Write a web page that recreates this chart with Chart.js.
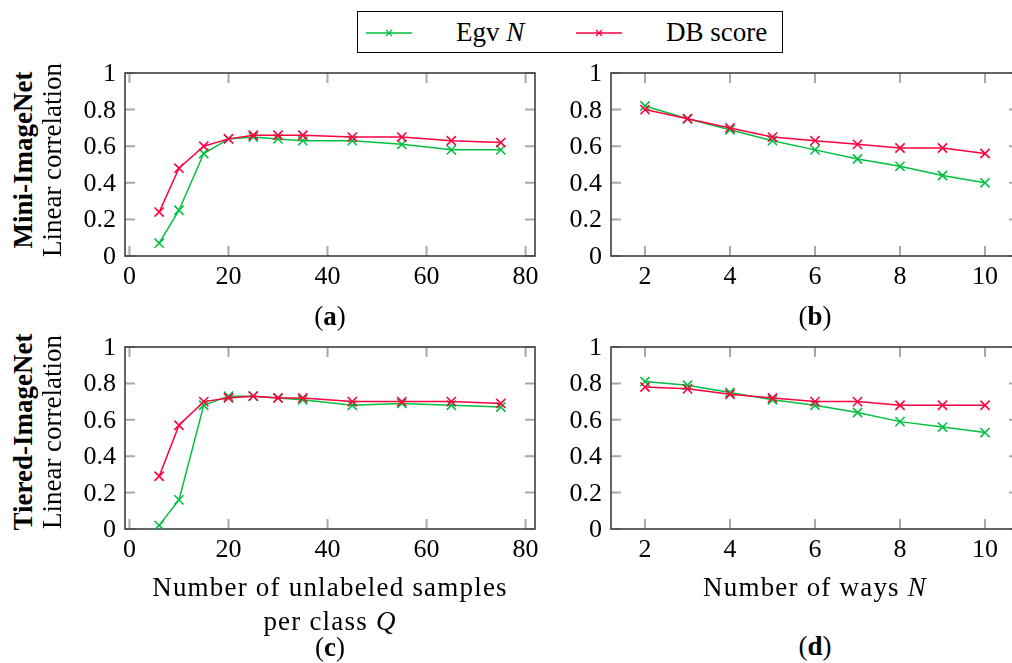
<!DOCTYPE html>
<html>
<head>
<meta charset="utf-8">
<script src="https://cdn.jsdelivr.net/npm/chart.js@4.4.1/dist/chart.umd.min.js"></script>
<style>
  body { margin: 0; width: 1012px; height: 663px; overflow: hidden; background: #fff; position: relative;
         font-family: "Liberation Serif", serif; color: #000; }
  canvas { position: absolute; }
  .lbl { position: absolute; font-size: 27px; line-height: 1; white-space: nowrap; transform: translate(-50%, -50%); }
  .rot { transform: translate(-50%, -50%) rotate(-90deg); }
  .wide { letter-spacing: 1.2px; }
  .tick { position: absolute; font-size: 26px; line-height: 1; white-space: nowrap; }
  .tx { transform: translate(-50%, -50%); }
  .ty { transform: translate(-100%, -50%); }
  .legend { position: absolute; left: 357px; top: 11px; width: 424px; height: 40px; border: 1.3px solid #000; }
  .legend svg { position: absolute; top: 15px; }
  .legend span { position: absolute; top: 7px; font-size: 27px; line-height: 1; white-space: nowrap; }
</style>
</head>
<body>

<div class="legend">
  <svg style="left:8px" width="46" height="12"><line x1="0" y1="6" x2="46" y2="6" stroke="#00c040" stroke-width="1.5"/><path d="M20 3L26 9M26 3L20 9" stroke="#00c040" stroke-width="1.3"/></svg>
  <span style="left:98px">Egv <i>N</i></span>
  <svg style="left:218px" width="46" height="12"><line x1="0" y1="6" x2="46" y2="6" stroke="#ff0040" stroke-width="1.5"/><path d="M20 3L26 9M26 3L20 9" stroke="#ff0040" stroke-width="1.3"/></svg>
  <span style="left:308px">DB score</span>
</div>

<canvas id="chartA"></canvas>
<canvas id="chartB"></canvas>
<canvas id="chartC"></canvas>
<canvas id="chartD"></canvas>

<div class="lbl rot" style="left:23px;top:160px;font-weight:bold">Mini-ImageNet</div>
<div class="lbl rot" style="left:52px;top:160px">Linear correlation</div>
<div class="lbl rot" style="left:23px;top:432px;font-weight:bold">Tiered-ImageNet</div>
<div class="lbl rot" style="left:52px;top:432px">Linear correlation</div>

<div class="lbl" style="left:330px;top:316px">(<b>a</b>)</div>
<div class="lbl" style="left:815px;top:316px">(<b>b</b>)</div>
<div class="lbl wide" style="left:330px;top:587px">Number of unlabeled samples</div>
<div class="lbl wide" style="left:330px;top:621px">per class <i>Q</i></div>
<div class="lbl" style="left:330px;top:647px">(<b>c</b>)</div>
<div class="lbl wide" style="left:815px;top:587px">Number of ways <i>N</i></div>
<div class="lbl" style="left:815px;top:646px">(<b>d</b>)</div>

<script>
// x values
const qValues = [6, 10, 15, 20, 25, 30, 35, 45, 55, 65, 75];
const nValues = [2, 3, 4, 5, 6, 7, 8, 9, 10];

// Mini-ImageNet
const miniQEgv = [0.07, 0.25, 0.56, 0.64, 0.65, 0.64, 0.63, 0.63, 0.61, 0.58, 0.58];
const miniQDb  = [0.24, 0.48, 0.60, 0.64, 0.66, 0.66, 0.66, 0.65, 0.65, 0.63, 0.62];
const miniNEgv = [0.82, 0.75, 0.69, 0.63, 0.58, 0.53, 0.49, 0.44, 0.40];
const miniNDb  = [0.80, 0.75, 0.70, 0.65, 0.63, 0.61, 0.59, 0.59, 0.56];

// Tiered-ImageNet
const tieredQEgv = [0.02, 0.16, 0.68, 0.73, 0.73, 0.72, 0.71, 0.68, 0.69, 0.68, 0.67];
const tieredQDb  = [0.29, 0.57, 0.70, 0.72, 0.73, 0.72, 0.72, 0.70, 0.70, 0.70, 0.69];
const tieredNEgv = [0.81, 0.79, 0.75, 0.71, 0.68, 0.64, 0.59, 0.56, 0.53];
const tieredNDb  = [0.78, 0.77, 0.74, 0.72, 0.70, 0.70, 0.68, 0.68, 0.68];

// tick labels
const qTicks = [0, 20, 40, 60, 80];
const nTicks = [2, 4, 6, 8, 10];
const yTicks = [0, 0.2, 0.4, 0.6, 0.8, 1];

const GREEN = "#00c040";
const RED = "#ff0040";

// pgfplots style: box frame with inward ticks on all four sides
const frameTicks = {
  id: "frameTicks",
  beforeDatasetsDraw(chart) {
    const { ctx, chartArea: a, scales: { x, y } } = chart;
    ctx.save();
    ctx.strokeStyle = "#a8a8a8";
    ctx.lineWidth = 2;
    ctx.beginPath();
    x.ticks.forEach((t) => {
      const px = x.getPixelForValue(t.value);
      ctx.moveTo(px, a.bottom); ctx.lineTo(px, a.bottom - 10);
      ctx.moveTo(px, a.top); ctx.lineTo(px, a.top + 10);
    });
    y.ticks.forEach((t) => {
      const py = y.getPixelForValue(t.value);
      ctx.moveTo(a.left, py); ctx.lineTo(a.left + 10, py);
      ctx.moveTo(a.right, py); ctx.lineTo(a.right - 10, py);
    });
    ctx.stroke();
    ctx.strokeStyle = "#404040";
    ctx.lineWidth = 1.6;
    ctx.strokeRect(a.left, a.top, a.right - a.left, a.bottom - a.top);
    ctx.restore();
  }
};

// tick labels as page text, placed with the chart's own scales
const htmlTicks = {
  id: "htmlTicks",
  afterRender(chart) {
    if (chart.$ticksDone) return;
    chart.$ticksDone = true;
    const { chartArea: a, scales: { x, y } } = chart;
    const ox = chart.canvas.offsetLeft, oy = chart.canvas.offsetTop;
    x.ticks.forEach((t) => {
      const d = document.createElement("div");
      d.className = "tick tx";
      d.textContent = String(t.value);
      d.style.left = (ox + x.getPixelForValue(t.value)) + "px";
      d.style.top = (oy + a.bottom + 19.5) + "px";
      document.body.appendChild(d);
    });
    y.ticks.forEach((t) => {
      const d = document.createElement("div");
      d.className = "tick ty";
      d.textContent = String(t.value);
      d.style.left = (ox + a.left - 9) + "px";
      d.style.top = (oy + y.getPixelForValue(t.value)) + "px";
      document.body.appendChild(d);
    });
  }
};

function series(label, xs, ys, color, order) {
  return {
    label,
    data: xs.map((x, i) => ({ x, y: ys[i] })),
    borderColor: color,
    backgroundColor: color,
    borderWidth: 1.5,
    pointStyle: "crossRot",
    pointRadius: 6.5,
    pointBorderWidth: 1.6,
    tension: 0,
    order
  };
}

// area = plot box in page pixels
function makePanel(id, area, xs, egv, db, xMin, xMax, xTicks) {
  const padL = 60, padR = 20, padT = 15, padB = 45;
  const canvas = document.getElementById(id);
  const w = area.right - area.left + padL + padR;
  const h = area.bottom - area.top + padT + padB;
  canvas.width = w; canvas.height = h;
  canvas.style.left = (area.left - padL) + "px";
  canvas.style.top = (area.top - padT) + "px";
  canvas.style.width = w + "px"; canvas.style.height = h + "px";

  new Chart(canvas, {
    type: "line",
    data: { datasets: [series("Egv N", xs, egv, GREEN, 1), series("DB score", xs, db, RED, 0)] },
    options: {
      responsive: false,
      animation: false,
      events: [],
      layout: { padding: { left: 0, right: padR, top: padT, bottom: 0 } },
      plugins: { legend: { display: false }, tooltip: { enabled: false } },
      scales: {
        x: {
          type: "linear", min: xMin, max: xMax,
          grid: { display: false, drawTicks: false }, border: { display: false },
          afterBuildTicks: (s) => { s.ticks = xTicks.map((v) => ({ value: v })); },
          afterFit: (s) => { s.height = padB; },
          ticks: { display: false }
        },
        y: {
          min: 0, max: 1,
          grid: { display: false, drawTicks: false }, border: { display: false },
          afterBuildTicks: (s) => { s.ticks = yTicks.map((v) => ({ value: v })); },
          afterFit: (s) => { s.width = padL; },
          ticks: { display: false }
        }
      }
    },
    plugins: [frameTicks, htmlTicks]
  });
}

makePanel("chartA", { left: 125, right: 535, top: 73, bottom: 256 }, qValues, miniQEgv, miniQDb, -0.9, 81.9, qTicks);
makePanel("chartB", { left: 611, right: 1019, top: 73, bottom: 256 }, nValues, miniNEgv, miniNDb, 1.2, 10.8, nTicks);
makePanel("chartC", { left: 125, right: 535, top: 347, bottom: 529 }, qValues, tieredQEgv, tieredQDb, -0.9, 81.9, qTicks);
makePanel("chartD", { left: 611, right: 1019, top: 347, bottom: 529 }, nValues, tieredNEgv, tieredNDb, 1.2, 10.8, nTicks);
</script>
</body>
</html>
